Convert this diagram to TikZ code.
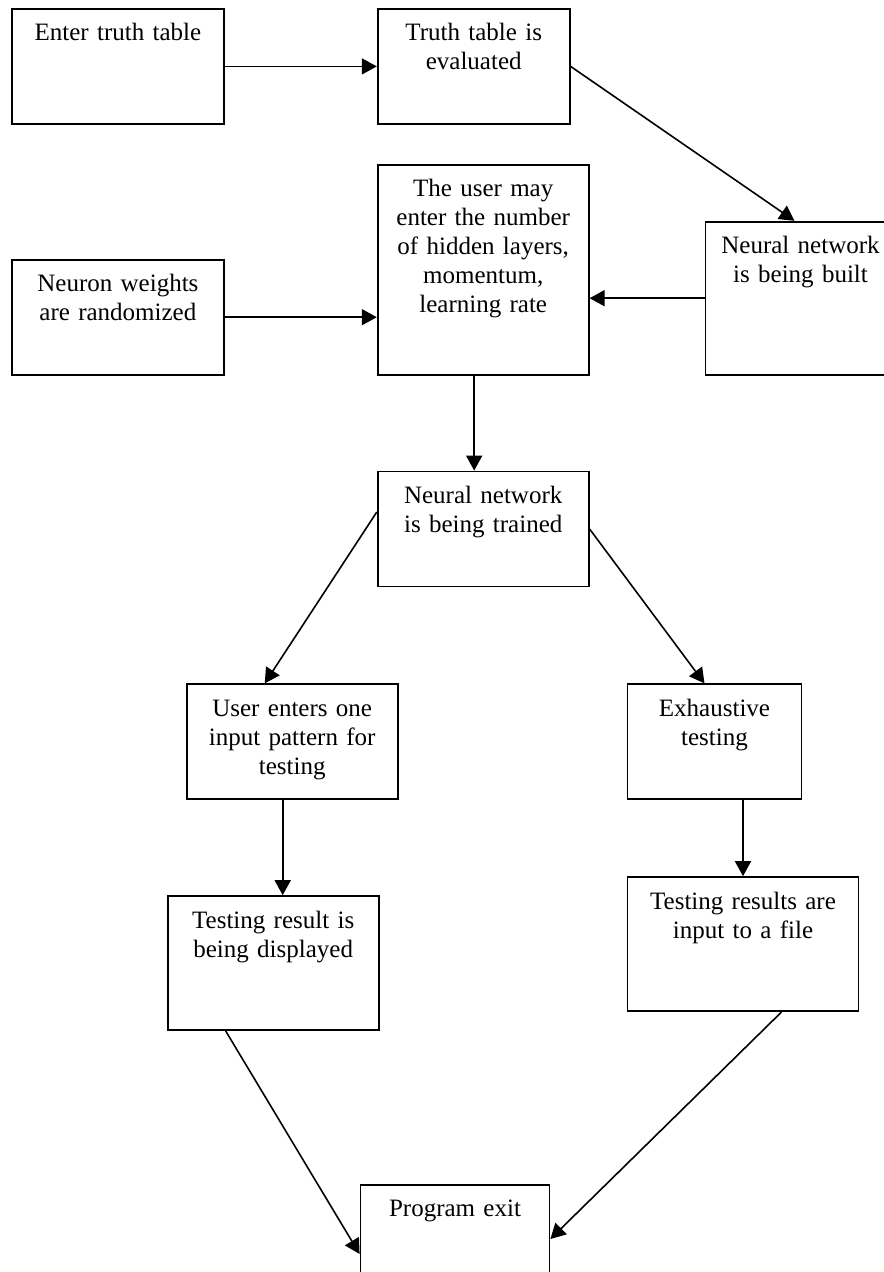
\documentclass[tikz,border=0pt]{standalone}
\usepackage{fontspec}
\setmainfont{Liberation Serif}
\usetikzlibrary{positioning, arrows.meta}

\begin{document}
\begin{tikzpicture}[
  font=\fontsize{12.5}{14.5}\selectfont,
  box/.style={draw, line width=0.9pt, align=center, inner sep=0pt,
              text height=16pt, anchor=north west},
  arr/.style={-{Triangle[length=7.5pt, width=8pt]}, line width=0.8pt}
]
\useasboundingbox (0,0) rectangle (441.5pt,-636pt);
\node[box, text width=106pt, text depth=41.5pt] (enter) at (5.5pt,-4pt) {Enter truth table};
\node[box, text width=96pt, text depth=41.5pt, right=76pt of enter.north east, anchor=north west] (evaluated) {Truth table is\\evaluated};
\node[box, text width=105.5pt, text depth=89pt, below=19.5pt of evaluated.south west, anchor=north west] (user) {The user may\\enter the number\\of hidden layers,\\momentum,\\learning rate};
\node[box, text width=95pt, text depth=60.5pt, right=57.5pt of user.north east, anchor=north west, yshift=-28.5pt] (built) {Neural network\\is being built};
\node[box, text width=106pt, text depth=41.5pt, below=67pt of enter.south west, anchor=north west] (weights) {Neuron weights\\are randomized};
\node[box, text width=105.5pt, text depth=41.5pt, below=47.5pt of user.south west, anchor=north west] (trained) {Neural network\\is being trained};
\node[box, text width=105.5pt, text depth=41.5pt, below=48pt of trained.south west, anchor=north west, xshift=-95.5pt] (oneinput) {User enters one\\input pattern for\\testing};
\node[box, text width=87pt, text depth=41.5pt, right=114pt of oneinput.north east, anchor=north west] (exhaustive) {Exhaustive\\testing};
\node[box, text width=105.5pt, text depth=51pt, below=47.5pt of oneinput.south west, anchor=north west, xshift=-9.5pt] (displayed) {Testing result is\\being displayed};
\node[box, text width=115.5pt, text depth=51pt, below=38pt of exhaustive.south west, anchor=north west] (file) {Testing results are\\input to a file};
\node[box, text width=94.5pt, text depth=46.5pt, below=76.5pt of displayed.south east, anchor=north west, xshift=-10pt] (exit) {Program exit};

\draw[arr] (enter) -- (evaluated);
\draw[arr] (evaluated.east) -- ([xshift=-3pt]built.north);
\draw[arr] (built.west) -- (built.west -| user.east);
\draw[arr] (weights.east) -- (weights.east -| user.west);
\draw[arr] ([xshift=-4.5pt]user.south) -- ([xshift=-4.5pt]trained.north);
\draw[arr] ([yshift=8.5pt]trained.west) -- ([xshift=-13.75pt]oneinput.north);
\draw[arr] (trained.east) -- ([xshift=-5pt]exhaustive.north);
\draw[arr] ([xshift=-4.75pt]oneinput.south) -- ([xshift=4.75pt]displayed.north);
\draw[arr] ([xshift=14.25pt]exhaustive.south) -- (file.north);
\draw[arr] ([xshift=-23.75pt]displayed.south) -- ([yshift=-35pt]exit.north west);
\draw[arr] ([xshift=19.25pt]file.south) -- ([yshift=-27.5pt]exit.north east);
\end{tikzpicture}
\end{document}
